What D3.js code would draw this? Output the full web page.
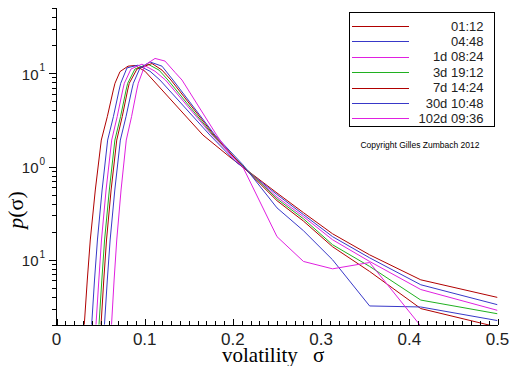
<!DOCTYPE html>
<html>
<head>
<meta charset="utf-8">
<script src="https://cdn.jsdelivr.net/npm/d3@7"></script>
<style>
  body { margin: 0; background: #fff; }
  svg { display: block; }
</style>
</head>
<body>
<svg id="chart" width="512" height="366"></svg>
<script>
// series names and colours (legend order)
const labels = ["01:12", "04:48", "1d 08:24", "3d 19:12", "7d 14:24", "30d 10:48", "102d 09:36"];
const colors = ["#b00000", "#3838c8", "#e020e0", "#20b020", "#b00000", "#3838c8", "#e020e0"];

// [sigma, p(sigma)]
const s0112 = [[0.0315,0.0202],[0.0349,0.0607],[0.0383,0.163],[0.044,0.56],[0.0508,1.92],[0.0576,3.42],[0.0644,6.6],[0.0663,7.8],[0.072,10.4],[0.0811,11.9],[0.089,12.1],[0.1003,10.5],[0.1094,8.45],[0.1661,2.17],[0.1967,1.26],[0.2081,1.04],[0.25,0.52],[0.28,0.32],[0.313,0.19],[0.355,0.113],[0.413,0.061],[0.5,0.0395]];
const s0448 = [[0.0399,0.0202],[0.0431,0.0607],[0.0464,0.163],[0.0517,0.56],[0.058,1.92],[0.0645,3.42],[0.071,6.6],[0.0728,7.8],[0.0799,11.4],[0.0924,12.2],[0.106,10.5],[0.1173,8.45],[0.174,2.17],[0.2035,1.12],[0.25,0.50],[0.28,0.305],[0.313,0.177],[0.355,0.105],[0.413,0.054],[0.5,0.033]];
const s1d = [[0.0448,0.0202],[0.048,0.0607],[0.051,0.163],[0.0562,0.56],[0.0626,1.92],[0.0688,3.42],[0.0751,6.6],[0.0769,7.8],[0.0845,11.1],[0.0969,12.5],[0.1117,10.5],[0.1236,8.45],[0.1763,2.17],[0.2058,1.12],[0.25,0.47],[0.28,0.29],[0.313,0.164],[0.355,0.096],[0.413,0.048],[0.5,0.0287]];
const s3d = [[0.0482,0.0202],[0.0514,0.0607],[0.0545,0.163],[0.0599,0.56],[0.0662,1.92],[0.0726,3.42],[0.0789,6.6],[0.0807,7.8],[0.089,11.1],[0.1037,12.5],[0.1162,10.8],[0.1264,8.45],[0.1774,2.17],[0.2081,1.09],[0.25,0.45],[0.28,0.275],[0.313,0.145],[0.355,0.085],[0.413,0.037],[0.5,0.0264]];
const s7d = [[0.0505,0.0202],[0.0536,0.0607],[0.0567,0.163],[0.0619,0.56],[0.0683,1.92],[0.0745,3.42],[0.0807,6.6],[0.0825,7.8],[0.0913,11.1],[0.1083,12.7],[0.1196,10.8],[0.1298,8.45],[0.1786,2.17],[0.2081,1.07],[0.25,0.43],[0.28,0.26],[0.313,0.138],[0.355,0.075],[0.413,0.030],[0.5,0.019]];
const s30d = [[0.0544,0.0202],[0.0576,0.0607],[0.0608,0.163],[0.0661,0.56],[0.0724,1.92],[0.0788,3.42],[0.0853,6.6],[0.0871,7.8],[0.0947,11.4],[0.106,13.2],[0.1196,11.9],[0.1321,8.45],[0.1797,2.17],[0.2115,1.04],[0.25,0.36],[0.28,0.205],[0.313,0.10],[0.355,0.032],[0.413,0.0312],[0.5,0.0223]];
const s102d = [[0.0624,0.0202],[0.0653,0.0607],[0.0683,0.163],[0.0732,0.56],[0.0791,1.92],[0.0851,3.42],[0.091,6.6],[0.0927,7.8],[0.1003,12.2],[0.1117,14.4],[0.123,13.5],[0.1344,10.2],[0.1423,8.45],[0.1816,2.17],[0.1967,1.35],[0.2115,0.98],[0.25,0.177],[0.28,0.096],[0.313,0.08],[0.355,0.0935],[0.413,0.0195]];
const series = [s0112, s0448, s1d, s3d, s7d, s30d, s102d];

// axis ticks
const xTicks = [0, 0.1, 0.2, 0.3, 0.4, 0.5];
const xTickLabels = ["0", "0.1", "0.2", "0.3", "0.4", "0.5"];
const yTicks = [0.1, 1, 10];
const yTickExp = ["1", "0", "1"];

const svg = d3.select("#chart");

const x = d3.scaleLinear().domain([0, 0.5]).range([56.5, 497.5]);
const y = d3.scaleLog().domain([0.02, 50]).range([325, 8]);

// clip the curves to the plot area
svg.append("clipPath").attr("id", "plot")
  .append("rect")
  .attr("x", x(0)).attr("y", y(50))
  .attr("width", x(0.5) - x(0)).attr("height", y(0.02) - y(50));

const line = d3.line().x(d => x(d[0])).y(d => y(d[1]));

svg.append("g").attr("clip-path", "url(#plot)")
  .selectAll("path")
  .data(series)
  .enter().append("path")
  .attr("d", line)
  .attr("fill", "none")
  .attr("stroke", (d, i) => colors[i])
  .attr("stroke-width", 1);

// x axis: line + ticks pointing up
const gx = svg.append("g").attr("shape-rendering", "crispEdges");
gx.append("line")
  .attr("x1", x(0)).attr("x2", x(0.5))
  .attr("y1", 325.5).attr("y2", 325.5)
  .attr("stroke", "#000");
const xMinor = d3.range(0, 51).map(i => i / 100);
gx.selectAll("line.t").data(xMinor).enter().append("line")
  .attr("class", "t")
  .attr("x1", d => Math.round(x(d)) + 0.5).attr("x2", d => Math.round(x(d)) + 0.5)
  .attr("y1", 325).attr("y2", (d, i) => i % 10 === 0 ? 319 : 321)
  .attr("stroke", "#000");
svg.selectAll("text.xl").data(xTicks).enter().append("text")
  .attr("class", "xl")
  .attr("x", d => x(d)).attr("y", 345)
  .attr("text-anchor", "middle")
  .attr("font-family", "Liberation Sans, Arial, sans-serif")
  .attr("font-size", 17)
  .attr("fill", "#222")
  .text((d, i) => xTickLabels[i]);

// y axis: line + ticks pointing left
const gy = svg.append("g").attr("shape-rendering", "crispEdges");
gy.append("line")
  .attr("x1", 56.5).attr("x2", 56.5)
  .attr("y1", y(50)).attr("y2", 325.5)
  .attr("stroke", "#000");
const yMinor = [];
[0.01, 0.1, 1, 10].forEach(b => {
  for (let k = 1; k <= 9; k++) {
    const v = +(b * k).toPrecision(3);
    if (v >= 0.02 && v <= 50) yMinor.push(v);
  }
});
gy.selectAll("line.t").data(yMinor).enter().append("line")
  .attr("class", "t")
  .attr("x1", 56).attr("x2", d => yTicks.includes(d) ? 49 : 52)
  .attr("y1", d => Math.round(y(d)) + 0.5).attr("y2", d => Math.round(y(d)) + 0.5)
  .attr("stroke", "#000");

const yl = svg.selectAll("g.yl").data(yTicks).enter().append("g").attr("class", "yl");
yl.append("text")
  .attr("x", 38.5).attr("y", d => y(d) + 6.5)
  .attr("text-anchor", "end")
  .attr("font-family", "Liberation Sans, Arial, sans-serif")
  .attr("font-size", 15)
  .attr("fill", "#222")
  .text("10");
yl.append("text")
  .attr("x", 39.5).attr("y", d => y(d) - 2)
  .attr("font-family", "Liberation Sans, Arial, sans-serif")
  .attr("font-size", 10)
  .attr("fill", "#222")
  .text((d, i) => yTickExp[i]);

// axis titles
svg.append("text")
  .attr("x", 222).attr("y", 362)
  .attr("font-family", "Liberation Serif, Times New Roman, serif")
  .attr("font-size", 21)
  .text("volatility")
  .append("tspan").attr("x", 313).text("σ");

svg.append("text")
  .attr("transform", "translate(23,210) rotate(-90)")
  .attr("text-anchor", "middle")
  .attr("font-family", "Liberation Serif, Times New Roman, serif")
  .attr("font-size", 22)
  .html('<tspan font-style="italic">p</tspan>(σ)');

// legend
const lg = svg.append("g");
lg.append("rect")
  .attr("x", 349.5).attr("y", 12.5)
  .attr("width", 145).attr("height", 114)
  .attr("fill", "#fff").attr("stroke", "#000")
  .attr("shape-rendering", "crispEdges");
const rows = lg.selectAll("g.row").data(labels).enter().append("g")
  .attr("class", "row")
  .attr("transform", (d, i) => `translate(0,${26 + i * 15.4})`);
rows.append("line")
  .attr("x1", 352).attr("x2", 409)
  .attr("y1", 0.5).attr("y2", 0.5)
  .attr("stroke", (d, i) => colors[i])
  .attr("shape-rendering", "crispEdges");
rows.append("text")
  .attr("x", 483.5).attr("y", 4.5)
  .attr("text-anchor", "end")
  .attr("font-family", "Liberation Sans, Arial, sans-serif")
  .attr("font-size", 13)
  .attr("fill", "#222")
  .text(d => d);

svg.append("text")
  .attr("x", 420).attr("y", 148)
  .attr("text-anchor", "middle")
  .attr("font-family", "Liberation Sans, Arial, sans-serif")
  .attr("font-size", 8.5)
  .text("Copyright Gilles Zumbach 2012");
</script>
</body>
</html>
